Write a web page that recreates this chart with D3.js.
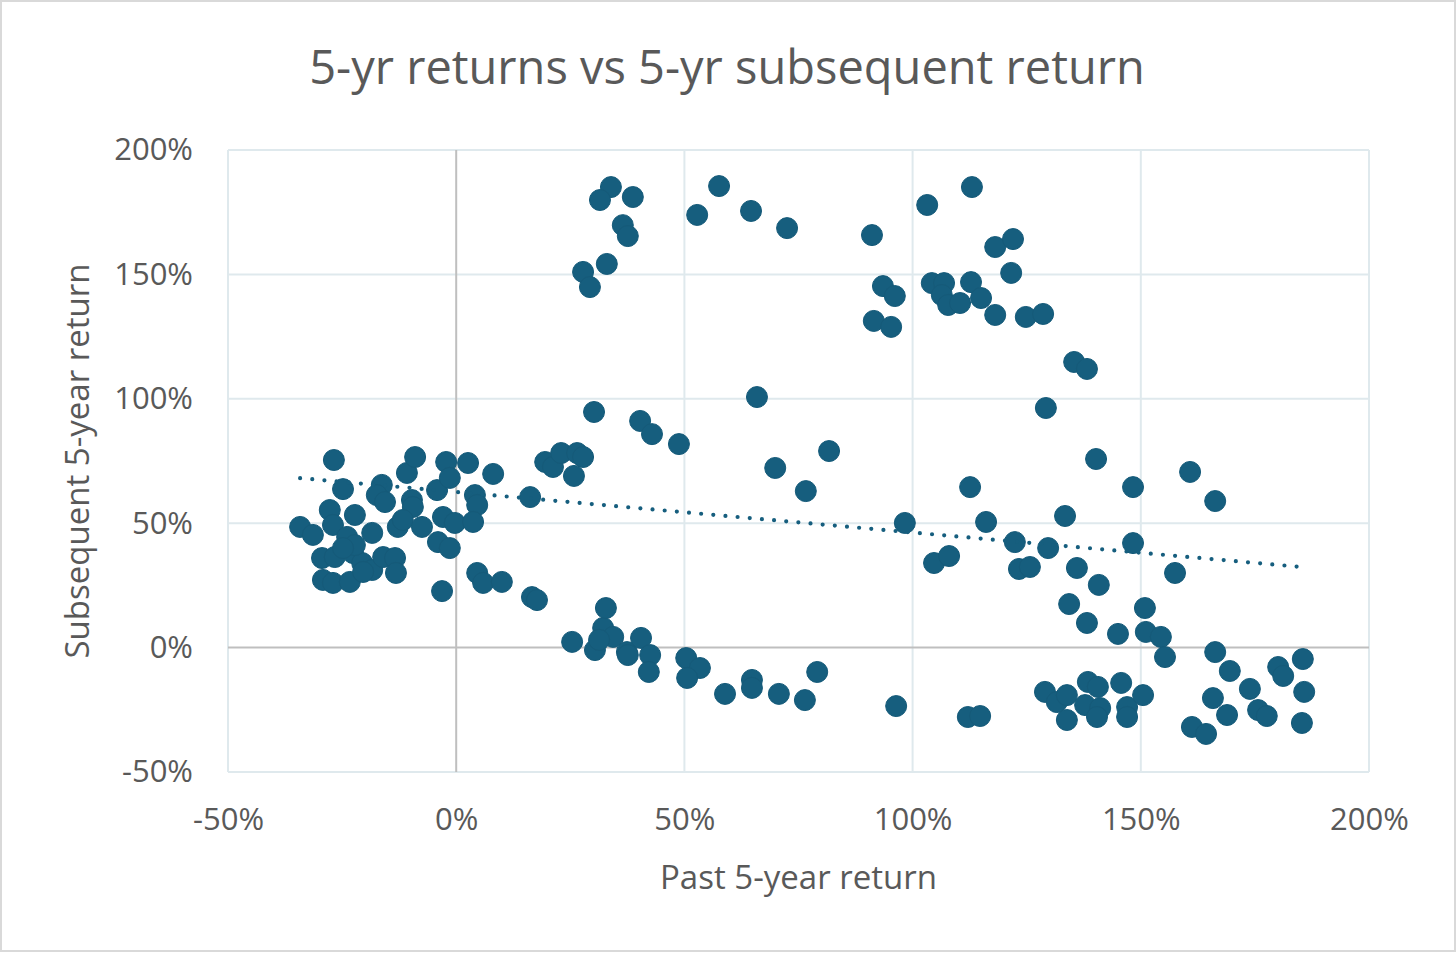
<!DOCTYPE html>
<html>
<head>
<meta charset="utf-8">
<script src="https://cdn.jsdelivr.net/npm/d3@7/dist/d3.min.js"></script>
<style>
  html, body { margin: 0; padding: 0; background: #fff; }
  svg { display: block; }
  text { font-family: "Open Sans", "Noto Sans", sans-serif; fill: #595959; }
</style>
</head>
<body>
<svg id="chart" width="1456" height="953"></svg>
<script>
// ---- Data (percent values) ----
const pastReturn = [
  -34.2,-31.4,-26.8,-27.7,-24.8,-22.2,-27.0,-23.9,-18.4,-29.4,-26.6,-22.6,-20.6,-18.4,-16.0,-13.4,-13.2,
  -29.2,-27.0,-23.3,-20.4,-16.3,-17.4,-15.6,-10.8,-9.0,-9.7,-9.5,-12.8,-11.7,-7.5,-4.2,-2.9,-2.2,-1.4,-0.3,
  -4.0,-1.4,-3.1,2.6,8.1,4.1,4.6,3.7,4.6,5.9,10.0,-22.2,-24.8,
  16.2,19.5,21.2,23.0,26.5,27.8,25.8,16.6,17.7,
  33.9,31.5,38.7,36.5,37.6,33.0,27.8,29.3,52.8,57.6,64.6,72.5,91.1,93.5,96.1,91.5,95.3,103.2,113.0,
  118.1,122.0,121.6,104.2,106.9,106.4,107.8,110.4,112.8,115.0,118.1,124.8,128.6,135.4,138.2,129.2,
  30.2,40.3,42.9,48.8,65.9,69.9,76.6,81.7,98.3,104.7,108.0,112.6,116.1,122.4,129.7,123.3,125.7,133.4,
  136.0,140.2,140.8,148.3,148.3,157.5,160.8,166.3,134.3,138.2,145.0,150.9,151.1,154.4,155.3,
  25.4,30.4,32.2,32.8,34.4,31.3,37.4,37.6,40.5,42.5,42.2,50.4,53.4,50.6,58.9,64.8,64.8,70.7,76.4,79.1,
  96.4,112.1,114.8,
  129.0,131.6,133.8,133.8,138.4,140.6,137.8,141.1,140.4,145.7,147.0,147.0,150.5,161.2,164.3,166.3,
  165.8,169.5,168.9,173.9,175.7,177.6,180.1,181.2,185.5,185.8,185.3
];
const subsequentReturn = [
  48.5,45.3,75.4,55.3,63.7,53.3,49.3,44.5,46.1,36.0,36.4,38.0,34.0,31.2,36.4,36.0,30.0,
  27.2,26.0,26.4,30.4,65.4,61.3,58.5,70.2,76.6,59.3,56.5,48.5,51.3,48.5,63.3,52.5,74.6,68.2,50.1,
  42.4,40.0,22.7,74.2,69.8,61.3,57.3,50.5,30.0,26.0,26.4,41.2,40.0,
  60.5,74.6,72.6,78.2,78.2,76.6,69.0,20.3,19.1,
  185.1,179.9,181.1,169.8,165.4,154.2,151.0,144.9,173.9,185.5,175.5,168.6,165.8,145.3,141.3,131.3,128.9,177.9,185.1,
  161.0,164.2,150.6,146.5,146.5,141.7,137.7,138.5,146.9,140.5,133.7,132.9,134.1,114.8,112.0,96.3,
  94.7,91.1,85.8,81.8,100.7,72.2,62.9,79.0,50.1,34.0,36.8,64.5,50.5,42.4,40.0,31.6,32.4,52.9,
  32.0,75.8,25.2,64.5,42.0,30.0,70.6,58.9,17.5,9.9,5.5,15.9,6.3,4.3,-3.8,
  2.3,-1.0,7.9,15.9,4.3,3.1,-1.8,-3.0,3.9,-3.0,-9.8,-4.2,-8.2,-12.2,-18.6,-13.0,-16.2,-18.6,-21.1,-9.8,
  -23.5,-27.9,-27.5,
  -17.8,-21.9,-19.1,-29.1,-13.8,-15.8,-23.1,-24.3,-27.9,-14.2,-23.9,-27.9,-19.1,-31.9,-34.7,-1.8,
  -20.3,-9.4,-27.1,-16.6,-25.1,-27.5,-7.8,-11.4,-4.6,-17.8,-30.3
];
const xTicks = [-50, 0, 50, 100, 150, 200];
const yTicks = [-50, 0, 50, 100, 150, 200];
const chartTitle = "5-yr returns vs 5-yr subsequent return";
const xTitle = "Past 5-year return";
const yTitle = "Subsequent 5-year return";

// ---- Layout ----
const W = 1456, H = 953;
const plot = { left: 228, right: 1369, top: 150, bottom: 772 };
const svg = d3.select("#chart");

svg.append("rect").attr("x", 1).attr("y", 1).attr("width", W - 2).attr("height", H - 3)
  .attr("fill", "#fff").attr("stroke", "#d9d9d9").attr("stroke-width", 2);

const x = d3.scaleLinear().domain([-50, 200]).range([plot.left, plot.right]);
const y = d3.scaleLinear().domain([-50, 200]).range([plot.bottom, plot.top]);
const pct = d => d + "%";

// gridlines
const grid = svg.append("g");
grid.selectAll("line.gx").data(xTicks.filter(d => d !== 0)).join("line")
  .attr("x1", d => x(d)).attr("x2", d => x(d)).attr("y1", plot.top).attr("y2", plot.bottom)
  .attr("stroke", "#dfe9ed").attr("stroke-width", 2);
grid.selectAll("line.gy").data(yTicks.filter(d => d !== 0)).join("line")
  .attr("y1", d => y(d)).attr("y2", d => y(d)).attr("x1", plot.left).attr("x2", plot.right)
  .attr("stroke", "#dfe9ed").attr("stroke-width", 2);
// zero axes
grid.append("line").attr("x1", x(0)).attr("x2", x(0)).attr("y1", plot.top).attr("y2", plot.bottom)
  .attr("stroke", "#bfbfbf").attr("stroke-width", 2);
grid.append("line").attr("y1", y(0)).attr("y2", y(0)).attr("x1", plot.left).attr("x2", plot.right)
  .attr("stroke", "#bfbfbf").attr("stroke-width", 2);

// axes via d3 (labels only)
const xAxis = d3.axisBottom(x).tickValues(xTicks).tickFormat(pct).tickSize(0).tickPadding(0);
const gx = svg.append("g").attr("transform", `translate(0,${plot.bottom + 58})`).call(xAxis);
gx.select(".domain").remove();
gx.selectAll("text").attr("font-size", 31).attr("fill", "#595959")
  .attr("font-family", "'Open Sans', sans-serif").attr("dy", 0);

const yAxis = d3.axisLeft(y).tickValues(yTicks).tickFormat(pct).tickSize(0).tickPadding(0);
const gy = svg.append("g").attr("transform", `translate(${plot.left - 35},0)`).call(yAxis);
gy.select(".domain").remove();
gy.selectAll("text").attr("font-size", 31).attr("fill", "#595959")
  .attr("font-family", "'Open Sans', sans-serif");

// points
const pts = pastReturn.map((v, i) => ({ x: v, y: subsequentReturn[i] }));
svg.append("g").selectAll("circle").data(pts).join("circle")
  .attr("cx", d => x(d.x)).attr("cy", d => y(d.y)).attr("r", 10.5)
  .attr("fill", "#165e7e").attr("stroke", "#155a79").attr("stroke-width", 1);

// linear trendline (least squares from the data)
const mx = d3.mean(pts, d => d.x), my = d3.mean(pts, d => d.y);
const sxy = d3.sum(pts, d => (d.x - mx) * (d.y - my));
const sxx = d3.sum(pts, d => (d.x - mx) ** 2);
const slope = sxy / sxx, intercept = my - slope * mx;
const [xmin, xmax] = d3.extent(pts, d => d.x);
svg.append("line")
  .attr("x1", x(xmin)).attr("y1", y(intercept + slope * xmin))
  .attr("x2", x(xmax)).attr("y2", y(intercept + slope * xmax))
  .attr("stroke", "#165e7e").attr("stroke-width", 4.2)
  .attr("stroke-linecap", "round").attr("stroke-dasharray", "0 12.2");

// titles
svg.append("text").attr("x", 727).attr("y", 84).attr("text-anchor", "middle")
  .attr("font-size", 47).text(chartTitle);
svg.append("text").attr("x", (plot.left + plot.right) / 2).attr("y", 889).attr("text-anchor", "middle")
  .attr("font-size", 33).text(xTitle);
svg.append("text").attr("transform", `translate(89,${(plot.top + plot.bottom) / 2}) rotate(-90)`)
  .attr("text-anchor", "middle").attr("font-size", 33).text(yTitle);
</script>
</body>
</html>
